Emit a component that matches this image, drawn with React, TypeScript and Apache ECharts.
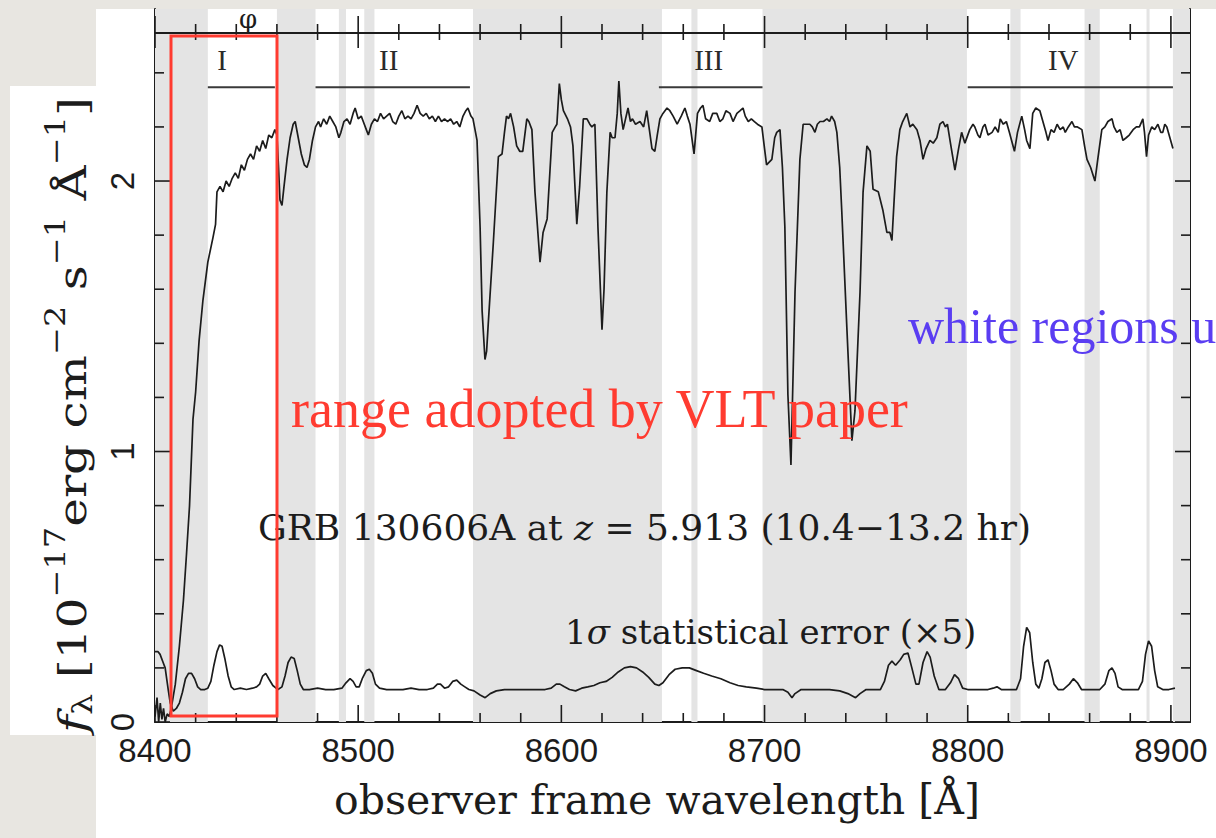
import React, { useEffect, useRef } from "react";
import * as echarts from "echarts";

// ---------- data ----------
const fluxPoints: [number, number][] = [
  [8400.0, 0.02], [8401.0, 0.09], [8401.8, 0.0], [8402.6, 0.07], [8403.4, 0.01], [8404.2, 0.05],
  [8405.0, 0.0], [8406.0, 0.03], [8407.0, 0.02], [8408.0, 0.05], [8410.0, 0.14], [8412.0, 0.28],
  [8414.0, 0.45], [8415.5, 0.62], [8417.0, 0.8], [8418.7, 1.12], [8420.0, 1.22], [8421.7, 1.41],
  [8423.6, 1.56], [8426.0, 1.7], [8428.5, 1.79], [8429.8, 1.84], [8430.5, 1.96], [8432.0, 1.98],
  [8433.5, 1.96], [8435.0, 2.0], [8436.5, 1.98], [8438.0, 2.01], [8439.5, 2.03], [8441.0, 2.01],
  [8442.5, 2.06], [8444.0, 2.04], [8445.5, 2.08], [8447.0, 2.1], [8448.5, 2.08], [8450.0, 2.13],
  [8451.5, 2.11], [8453.0, 2.15], [8454.5, 2.12], [8456.0, 2.17], [8457.5, 2.16], [8459.0, 2.19],
  [8460.0, 2.17], [8460.8, 2.05], [8461.5, 1.93],
  [8462.5, 1.91], [8463.5, 1.98], [8465.0, 2.08], [8466.5, 2.16], [8468.0, 2.21], [8469.0, 2.22],
  [8470.5, 2.16], [8472.0, 2.1], [8473.5, 2.06], [8474.8, 2.05], [8476.0, 2.08], [8477.5, 2.15],
  [8479.0, 2.2], [8480.5, 2.22], [8481.5, 2.2], [8483.0, 2.23], [8484.5, 2.21], [8486.0, 2.24],
  [8487.5, 2.22], [8489.0, 2.2], [8490.5, 2.16], [8491.5, 2.18], [8493.0, 2.22], [8494.5, 2.23],
  [8496.0, 2.21], [8497.5, 2.25], [8498.5, 2.27], [8500.0, 2.23], [8501.5, 2.24], [8502.5, 2.22],
  [8504.0, 2.19], [8505.0, 2.17], [8506.5, 2.21], [8508.0, 2.23], [8509.5, 2.22], [8511.0, 2.25],
  [8512.5, 2.23], [8514.0, 2.24], [8515.5, 2.25], [8517.0, 2.22], [8518.5, 2.21], [8520.0, 2.24],
  [8521.5, 2.26], [8523.0, 2.23], [8524.5, 2.24], [8526.0, 2.23], [8527.5, 2.25], [8529.0, 2.28],
  [8530.5, 2.25], [8532.0, 2.24], [8533.5, 2.25], [8535.0, 2.23], [8536.5, 2.24], [8538.0, 2.22],
  [8539.5, 2.24], [8541.0, 2.22], [8542.5, 2.23], [8544.0, 2.22], [8545.5, 2.23], [8547.0, 2.21],
  [8548.5, 2.22], [8550.0, 2.2], [8551.6, 2.24], [8553.0, 2.26], [8554.0, 2.27], [8555.5, 2.24],
  [8556.5, 2.23], [8558.5, 2.15], [8560.0, 1.83], [8561.0, 1.52], [8562.4, 1.34], [8563.2, 1.37],
  [8564.0, 1.47], [8566.5, 1.77], [8569.0, 2.09], [8570.8, 2.1], [8572.0, 2.18], [8573.0, 2.24],
  [8574.0, 2.23], [8575.0, 2.25], [8576.5, 2.2], [8578.0, 2.13], [8579.5, 2.11], [8581.0, 2.11],
  [8583.0, 2.23], [8584.0, 2.22], [8585.5, 2.19], [8587.0, 1.96], [8589.5, 1.7], [8591.0, 1.81],
  [8593.0, 1.86], [8595.5, 2.18], [8597.0, 2.2], [8597.8, 2.21], [8599.0, 2.36], [8600.0, 2.3],
  [8601.0, 2.26], [8603.0, 2.23], [8604.5, 2.2], [8605.7, 2.13], [8607.6, 1.84], [8609.0, 1.98],
  [8610.8, 2.23], [8612.6, 2.23], [8614.0, 2.21], [8615.0, 2.2], [8616.5, 2.21], [8618.0, 1.83],
  [8620.0, 1.45], [8621.0, 1.6], [8622.4, 1.96], [8624.0, 2.18], [8625.0, 2.16], [8626.4, 2.16],
  [8627.5, 2.25], [8628.3, 2.37], [8629.3, 2.25], [8630.4, 2.19], [8632.8, 2.27], [8634.0, 2.22],
  [8635.0, 2.23], [8636.5, 2.21], [8638.7, 2.22], [8640.5, 2.2], [8642.0, 2.26], [8643.5, 2.18],
  [8644.6, 2.12], [8646.0, 2.11], [8647.2, 2.17], [8648.5, 2.23], [8650.0, 2.25], [8652.0, 2.27],
  [8653.4, 2.26], [8655.0, 2.24], [8657.0, 2.21], [8659.0, 2.24], [8660.8, 2.27], [8662.0, 2.24],
  [8663.3, 2.21], [8665.3, 2.1], [8667.0, 2.25], [8668.5, 2.27], [8669.7, 2.28], [8671.0, 2.23],
  [8673.0, 2.22], [8674.5, 2.25], [8676.5, 2.25], [8678.0, 2.22], [8679.5, 2.23], [8681.0, 2.26],
  [8683.0, 2.25], [8684.5, 2.22], [8686.4, 2.25], [8688.0, 2.26], [8689.4, 2.27], [8690.5, 2.24],
  [8692.0, 2.22], [8693.5, 2.23], [8695.0, 2.22], [8696.5, 2.21], [8698.7, 2.2], [8700.0, 2.12],
  [8701.0, 2.06], [8702.3, 2.07], [8703.6, 2.08], [8705.0, 2.16], [8706.0, 2.18], [8707.6, 2.19],
  [8708.8, 2.05], [8710.0, 1.83], [8711.5, 1.21], [8713.0, 0.95], [8715.0, 1.59], [8717.4, 2.08],
  [8719.0, 2.21], [8720.5, 2.21], [8722.3, 2.21], [8723.5, 2.2], [8724.8, 2.18], [8726.0, 2.21],
  [8727.3, 2.22], [8729.0, 2.22], [8730.7, 2.23], [8732.0, 2.22], [8733.0, 2.24], [8734.5, 2.22],
  [8735.6, 2.18], [8737.0, 2.05], [8738.0, 1.89], [8740.5, 1.46], [8743.0, 1.04], [8744.5, 1.15],
  [8747.0, 1.59], [8748.5, 1.96], [8750.4, 2.13], [8752.0, 2.11], [8753.4, 1.97], [8756.0, 1.96],
  [8758.3, 1.89], [8760.2, 1.81], [8761.7, 1.81], [8762.7, 1.78], [8764.0, 1.96], [8765.0, 2.09],
  [8766.6, 2.19], [8768.0, 2.22], [8770.0, 2.25], [8771.6, 2.2], [8773.0, 2.21], [8775.0, 2.19],
  [8776.5, 2.15], [8778.0, 2.08], [8779.5, 2.12], [8781.4, 2.15], [8783.0, 2.14], [8784.8, 2.16],
  [8786.3, 2.21], [8787.8, 2.22], [8789.0, 2.2], [8790.0, 2.21], [8791.5, 2.14], [8793.7, 2.04],
  [8795.5, 2.12], [8797.0, 2.18], [8798.6, 2.14], [8801.0, 2.19], [8802.6, 2.21], [8803.5, 2.2],
  [8805.0, 2.17], [8806.0, 2.16], [8807.5, 2.2], [8808.5, 2.21], [8810.0, 2.17], [8812.0, 2.18],
  [8813.5, 2.2], [8815.0, 2.18], [8816.0, 2.23], [8817.5, 2.21], [8819.0, 2.22], [8820.5, 2.18],
  [8823.0, 2.11], [8824.5, 2.18], [8826.6, 2.24], [8828.0, 2.19], [8829.0, 2.15], [8830.6, 2.12],
  [8832.0, 2.25], [8833.5, 2.27], [8835.5, 2.26], [8837.0, 2.22], [8838.5, 2.18], [8839.5, 2.15],
  [8841.0, 2.19], [8842.5, 2.18], [8844.0, 2.21], [8845.5, 2.19], [8847.0, 2.2], [8848.0, 2.18],
  [8849.5, 2.2], [8851.3, 2.22], [8852.5, 2.2], [8854.0, 2.2], [8856.2, 2.19], [8857.5, 2.13],
  [8858.7, 2.08], [8860.5, 2.05], [8862.6, 2.0], [8864.0, 2.08], [8866.0, 2.19], [8867.5, 2.2],
  [8869.0, 2.22], [8871.0, 2.23], [8872.0, 2.2], [8873.4, 2.18], [8875.0, 2.19], [8876.4, 2.15],
  [8878.0, 2.16], [8879.5, 2.17], [8881.4, 2.19], [8883.0, 2.2], [8884.5, 2.2], [8886.2, 2.23],
  [8887.0, 2.18], [8888.0, 2.09], [8889.0, 2.17], [8890.6, 2.2], [8892.0, 2.19], [8893.6, 2.21],
  [8895.0, 2.18], [8896.0, 2.18], [8897.0, 2.21], [8898.0, 2.2], [8899.5, 2.16], [8901.0, 2.12],
];

const errorPoints: [number, number][] = [
  [8400.0, 0.26], [8401.5, 0.26], [8402.5, 0.25], [8404.0, 0.22], [8405.0, 0.2], [8406.5, 0.12],
  [8407.5, 0.07], [8409.0, 0.04], [8410.5, 0.05], [8412.0, 0.07], [8413.5, 0.11], [8415.0, 0.16],
  [8416.5, 0.18], [8418.0, 0.18], [8419.5, 0.16], [8421.0, 0.13], [8422.5, 0.12], [8424.5, 0.12],
  [8426.0, 0.125], [8427.5, 0.15], [8429.0, 0.21], [8430.5, 0.26], [8431.8, 0.285], [8433.0, 0.28],
  [8434.5, 0.23], [8436.0, 0.17], [8437.5, 0.13], [8439.0, 0.12], [8442.0, 0.125], [8445.0, 0.12],
  [8448.0, 0.125], [8450.0, 0.13], [8451.5, 0.14], [8453.0, 0.17], [8454.5, 0.18], [8456.0, 0.16],
  [8458.0, 0.135], [8460.5, 0.12], [8462.5, 0.13], [8464.0, 0.17], [8465.5, 0.22], [8467.0, 0.24],
  [8468.5, 0.235], [8470.0, 0.19], [8471.5, 0.14], [8473.0, 0.12], [8476.0, 0.12], [8480.0, 0.125],
  [8484.0, 0.12], [8488.0, 0.12], [8492.0, 0.125], [8494.0, 0.145], [8496.0, 0.16], [8497.5, 0.15],
  [8499.0, 0.13], [8500.5, 0.13], [8502.0, 0.16], [8504.0, 0.19], [8505.5, 0.195], [8507.0, 0.18],
  [8508.5, 0.14], [8510.5, 0.125], [8514.0, 0.12], [8518.0, 0.12], [8522.0, 0.12], [8526.0, 0.125],
  [8530.0, 0.12], [8534.0, 0.12], [8537.0, 0.125], [8539.0, 0.14], [8540.5, 0.14], [8542.5, 0.125],
  [8544.5, 0.13], [8546.5, 0.15], [8548.5, 0.155], [8550.5, 0.14], [8552.5, 0.13], [8554.5, 0.12],
  [8557.0, 0.115], [8560.0, 0.1], [8562.5, 0.09], [8565.0, 0.105], [8568.0, 0.115], [8572.0, 0.12],
  [8576.0, 0.12], [8580.0, 0.12], [8584.0, 0.12], [8588.0, 0.12], [8592.0, 0.12], [8595.0, 0.125],
  [8597.5, 0.14], [8599.3, 0.14], [8601.5, 0.13], [8604.0, 0.12], [8607.0, 0.115], [8610.0, 0.125],
  [8613.0, 0.13], [8616.0, 0.135], [8619.0, 0.145], [8622.0, 0.15], [8625.0, 0.165], [8628.0, 0.185],
  [8631.0, 0.2], [8634.0, 0.205], [8637.0, 0.2], [8640.0, 0.185], [8643.0, 0.165], [8646.0, 0.14],
  [8648.0, 0.135], [8650.0, 0.145], [8653.0, 0.175], [8656.0, 0.195], [8659.5, 0.2], [8663.0, 0.2],
  [8666.5, 0.19], [8670.0, 0.18], [8674.0, 0.17], [8678.5, 0.16], [8683.0, 0.145], [8687.0, 0.135],
  [8691.0, 0.13], [8696.0, 0.125], [8700.0, 0.12], [8705.0, 0.12], [8709.0, 0.12], [8711.5, 0.11],
  [8713.5, 0.09], [8715.0, 0.105], [8718.0, 0.12], [8722.0, 0.12], [8727.0, 0.12], [8732.0, 0.12],
  [8737.0, 0.115], [8741.0, 0.105], [8744.8, 0.09], [8747.0, 0.105], [8750.0, 0.12], [8754.0, 0.12],
  [8757.0, 0.12], [8759.0, 0.15], [8761.0, 0.21], [8762.7, 0.225], [8764.5, 0.21], [8766.8, 0.23],
  [8768.5, 0.25], [8770.6, 0.255], [8772.5, 0.2], [8774.5, 0.14], [8776.0, 0.14], [8778.0, 0.22],
  [8780.0, 0.26], [8781.5, 0.24], [8783.5, 0.17], [8785.8, 0.12], [8789.0, 0.12], [8791.5, 0.145],
  [8793.5, 0.175], [8795.5, 0.16], [8797.5, 0.125], [8800.0, 0.12], [8805.0, 0.12], [8810.0, 0.12],
  [8812.5, 0.125], [8814.4, 0.13], [8816.5, 0.12], [8820.0, 0.12], [8824.0, 0.12], [8826.0, 0.16],
  [8827.5, 0.28], [8829.0, 0.35], [8830.5, 0.33], [8832.0, 0.22], [8833.5, 0.14], [8835.0, 0.125],
  [8836.5, 0.16], [8838.0, 0.22], [8839.5, 0.23], [8841.0, 0.19], [8842.5, 0.14], [8844.5, 0.12],
  [8847.0, 0.12], [8850.0, 0.14], [8852.0, 0.16], [8854.0, 0.145], [8856.0, 0.12], [8860.0, 0.12],
  [8865.0, 0.12], [8867.5, 0.14], [8869.5, 0.19], [8871.0, 0.2], [8872.5, 0.18], [8874.0, 0.13],
  [8876.0, 0.12], [8880.0, 0.12], [8884.0, 0.12], [8886.0, 0.15], [8887.5, 0.25], [8889.0, 0.3],
  [8890.5, 0.28], [8892.0, 0.19], [8893.5, 0.13], [8896.0, 0.12], [8899.0, 0.12], [8902.0, 0.125],
];

// grey (masked) wavelength ranges
const shadedRanges: [number, number][] = [
  [8400, 8426], [8460, 8479], [8490.5, 8494], [8503, 8508], [8556.5, 8649.5], [8664, 8667],
  [8699, 8799.6], [8821, 8826], [8857.5, 8865], [8888, 8889.5], [8901, 8909.4],
];

const regionNames = ["I", "II", "III", "IV"];
const regionStart = [8426, 8479, 8648, 8800];
const regionEnd = [8459, 8555, 8699, 8901];
const regionLabelAt = [8433, 8515, 8672.5, 8847];

const xTicks = [
  8400, 8420, 8440, 8460, 8480, 8500, 8520, 8540, 8560, 8580, 8600, 8620, 8640,
  8660, 8680, 8700, 8720, 8740, 8760, 8780, 8800, 8820, 8840, 8860, 8880, 8900,
];
const yTicks = [0, 0.2, 0.4, 0.6, 0.8, 1, 1.2, 1.4, 1.6, 1.8, 2, 2.2, 2.4];

const X_MIN = 8400;
const X_MAX = 8909.4;
const Y_MIN = 0;
const Y_MAX = 2.636;
const TOP_AXIS_VALUE = 2.551;
const BRACKET_VALUE = 2.347;
const LABEL_VALUE = 2.448;

const INK = "#1c1c1c";
const SHADE = "#e4e4e4";

function measure(text: string, font: string): number {
  const c = document.createElement("canvas").getContext("2d");
  if (!c) return text.length * 20;
  c.font = font;
  return c.measureText(text).width;
}

export default function App() {
  const ref = useRef<HTMLDivElement>(null);

  useEffect(() => {
    const el = ref.current;
    if (!el) return;
    const chart = echarts.init(el, null, { renderer: "svg" });

    // y-axis title pieces laid out along the rotated direction
    const serif = '"DejaVu Serif"';
    const pieces = [
      { t: "f", size: 39, italic: true, dy: 0 },
      { t: "λ", size: 27, italic: false, dy: 11 },
      { t: " [10", size: 39, italic: false, dy: 0 },
      { t: "−17", size: 27, italic: false, dy: -16 },
      { t: "erg cm", size: 39, italic: false, dy: 0 },
      { t: "−2", size: 27, italic: false, dy: -16 },
      { t: " s", size: 39, italic: false, dy: 0 },
      { t: "−1", size: 27, italic: false, dy: -16 },
      { t: " Å", size: 39, italic: false, dy: 0 },
      { t: "−1", size: 27, italic: false, dy: -16 },
      { t: "]", size: 39, italic: false, dy: 0 },
    ];
    let cursor = 0;
    const yTitleChildren: any[] = [];
    pieces.forEach((p) => {
      const font = `${p.italic ? "italic " : ""}${p.size}px ${serif}`;
      const w = measure(p.t, font);
      yTitleChildren.push({
        type: "text",
        x: cursor,
        y: p.dy,
        style: {
          text: p.t,
          fontSize: p.size,
          fontFamily: "DejaVu Serif",
          fontStyle: p.italic ? "italic" : "normal",
          fill: INK,
          align: "left",
          verticalAlign: "middle",
          textAlign: "left",
          textVerticalAlign: "middle",
        },
      });
      cursor += w;
    });
    const yTitleScale = 636 / cursor;

    const textStyle = (o: any) => ({
      fill: INK,
      ...o,
      textAlign: o.align,
      textVerticalAlign: o.verticalAlign,
    });

    const option: any = {
      animation: false,
      backgroundColor: "#e8e6e1",
      grid: { left: 155, right: 26, top: 9, bottom: 116, containLabel: false },
      xAxis: {
        type: "value",
        min: X_MIN,
        max: X_MAX,
        interval: 100,
        axisLine: { show: true, onZero: false, lineStyle: { color: INK, width: 2 } },
        axisTick: { show: false },
        splitLine: { show: false },
        axisLabel: {
          show: true,
          margin: 12,
          fontSize: 33,
          fontFamily: "Liberation Sans",
          color: INK,
          showMaxLabel: false,
          formatter: (v: number) => (Math.abs(v % 100) < 1e-6 ? String(v) : ""),
        },
      },
      yAxis: [
        {
          type: "value",
          min: Y_MIN,
          max: Y_MAX,
          interval: 1,
          axisLine: { show: true, lineStyle: { color: INK, width: 2 } },
          axisTick: { show: false },
          splitLine: { show: false },
          axisLabel: {
            show: true,
            rotate: 90,
            margin: 16,
            fontSize: 33,
            fontFamily: "Liberation Sans",
            color: INK,
            showMaxLabel: false,
            formatter: (v: number) => (Math.abs(v - Math.round(v)) < 1e-6 ? String(v) : ""),
          },
        },
        {
          type: "value",
          position: "right",
          min: Y_MIN,
          max: Y_MAX,
          interval: 1,
          axisLine: { show: true, lineStyle: { color: INK, width: 2 } },
          axisTick: { show: false },
          axisLabel: { show: false },
          splitLine: { show: false },
        },
      ],
      series: [
        {
          type: "custom",
          name: "masked",
          z: 1,
          silent: true,
          clip: true,
          data: shadedRanges.map((r) => [r[0], r[1]]),
          encode: { x: [0, 1] },
          renderItem: (_p: any, api: any) => {
            const a = api.coord([api.value(0), Y_MAX]);
            const b = api.coord([api.value(1), Y_MIN]);
            return {
              type: "rect",
              shape: { x: a[0], y: a[1], width: b[0] - a[0], height: b[1] - a[1] },
              style: { fill: SHADE },
            };
          },
        },
        {
          type: "line",
          name: "flux",
          z: 4,
          data: fluxPoints,
          showSymbol: false,
          symbol: "none",
          silent: true,
          lineStyle: { color: INK, width: 1.7 },
          markLine: {
            silent: true,
            symbol: "none",
            label: { show: false },
            lineStyle: { color: INK, width: 2, type: "solid" },
            data: [{ yAxis: TOP_AXIS_VALUE }],
          },
        },
        {
          type: "line",
          name: "1σ error ×5",
          z: 4,
          data: errorPoints,
          showSymbol: false,
          symbol: "none",
          silent: true,
          lineStyle: { color: INK, width: 1.7 },
        },
        {
          type: "custom",
          name: "xticks",
          z: 5,
          silent: true,
          clip: false,
          data: xTicks.map((v) => [v, 0]),
          encode: { x: 0, y: 1 },
          renderItem: (_p: any, api: any) => {
            const v = api.value(0);
            const major = Math.abs(v % 100) < 1e-6;
            const pb = api.coord([v, Y_MIN]);
            const pt = api.coord([v, TOP_AXIS_VALUE]);
            const lb = major ? 17 : 9;
            const lt = major ? 16 : 8;
            const st = { stroke: INK, lineWidth: 1.6 };
            return {
              type: "group",
              children: [
                { type: "line", shape: { x1: pb[0], y1: pb[1], x2: pb[0], y2: pb[1] - lb }, style: st },
                { type: "line", shape: { x1: pt[0], y1: pt[1] - lt, x2: pt[0], y2: pt[1] + lt }, style: st },
              ],
            };
          },
        },
        {
          type: "custom",
          name: "yticks",
          z: 5,
          silent: true,
          clip: false,
          data: yTicks.map((v) => [X_MIN, v]),
          encode: { x: 0, y: 1 },
          renderItem: (_p: any, api: any) => {
            const v = api.value(1);
            const major = Math.abs(v - Math.round(v)) < 1e-6;
            const pl = api.coord([X_MIN, v]);
            const pr = api.coord([X_MAX, v]);
            const len = major ? 15 : 9;
            const st = { stroke: INK, lineWidth: 1.6 };
            return {
              type: "group",
              children: [
                { type: "line", shape: { x1: pl[0], y1: pl[1], x2: pl[0] + len, y2: pl[1] }, style: st },
                { type: "line", shape: { x1: pr[0], y1: pr[1], x2: pr[0] - len, y2: pr[1] }, style: st },
              ],
            };
          },
        },
        {
          type: "custom",
          name: "regions",
          z: 5,
          silent: true,
          clip: false,
          data: regionNames.map((_n, i) => [regionStart[i], regionEnd[i], regionLabelAt[i], i]),
          encode: { x: [0, 1, 2] },
          renderItem: (_p: any, api: any) => {
            const i = api.value(3);
            const a = api.coord([api.value(0), BRACKET_VALUE]);
            const b = api.coord([api.value(1), BRACKET_VALUE]);
            const l = api.coord([api.value(2), LABEL_VALUE]);
            return {
              type: "group",
              children: [
                { type: "line", shape: { x1: a[0], y1: a[1], x2: b[0], y2: b[1] }, style: { stroke: "#3a3a3a", lineWidth: 2 } },
                {
                  type: "text",
                  x: l[0],
                  y: l[1],
                  style: {
                    text: regionNames[i],
                    fontSize: 29,
                    fontFamily: "Liberation Serif",
                    fill: "#2a2a2a",
                    align: "center",
                    verticalAlign: "middle",
                  },
                },
              ],
            };
          },
        },
      ],
      graphic: [
        // white panels of the pasted figure
        { type: "rect", z: -10, silent: true, shape: { x: 96, y: 9, width: 1120, height: 829 }, style: { fill: "#ffffff" } },
        { type: "rect", z: -10, silent: true, shape: { x: 10, y: 86, width: 88, height: 649 }, style: { fill: "#ffffff" } },
        {
          type: "text",
          z: 50,
          x: 248,
          y: 19,
          style: textStyle({ text: "φ", fontSize: 26, fontFamily: "DejaVu Serif", align: "center", verticalAlign: "middle" }),
        },
        {
          type: "text",
          z: 50,
          x: 258,
          y: 527,
          style: {
            text: "{a|GRB 130606A at }{b|z}{a| = 5.913 (10.4−13.2 hr)}",
            rich: {
              a: { fontSize: 36, fontFamily: "DejaVu Serif", fill: INK },
              b: { fontSize: 36, fontFamily: "DejaVu Serif", fontStyle: "italic", fill: INK },
            },
            align: "left",
            verticalAlign: "middle",
            textAlign: "left",
            textVerticalAlign: "middle",
          },
        },
        {
          type: "text",
          z: 50,
          x: 565,
          y: 632,
          style: {
            text: "{a|1}{b|σ}{a| statistical error (×5)}",
            rich: {
              a: { fontSize: 34, fontFamily: "DejaVu Serif", fill: INK },
              b: { fontSize: 34, fontFamily: "DejaVu Serif", fontStyle: "italic", fill: INK },
            },
            align: "left",
            verticalAlign: "middle",
            textAlign: "left",
            textVerticalAlign: "middle",
          },
        },
        {
          type: "text",
          z: 50,
          x: 657,
          y: 800,
          style: textStyle({ text: "observer frame wavelength [Å]", fontSize: 41, fontFamily: "DejaVu Serif", align: "center", verticalAlign: "middle" }),
        },
        {
          type: "group",
          z: 50,
          x: 72,
          y: 733,
          rotation: Math.PI / 2,
          scaleX: yTitleScale,
          children: yTitleChildren,
        },
        // slide annotations
        {
          type: "rect",
          z: 60,
          silent: true,
          shape: { x: 171, y: 36, width: 106, height: 680 },
          style: { fill: "none", stroke: "#ff3b30", lineWidth: 3 },
        },
        {
          type: "text",
          z: 60,
          x: 291,
          y: 409,
          style: textStyle({ text: "range adopted by VLT paper", fontSize: 54, fontFamily: "Liberation Serif", fill: "#ff3b30", align: "left", verticalAlign: "middle" }),
        },
        {
          type: "text",
          z: 60,
          x: 908,
          y: 326,
          style: textStyle({ text: "white regions u", fontSize: 50, fontFamily: "Liberation Serif", fill: "#5a3df2", align: "left", verticalAlign: "middle" }),
        },
      ],
    };

    chart.setOption(option);
    return () => chart.dispose();
  }, []);

  return <div ref={ref} style={{ position: "fixed", left: 0, top: 0, width: 1216, height: 838 }} />;
}
